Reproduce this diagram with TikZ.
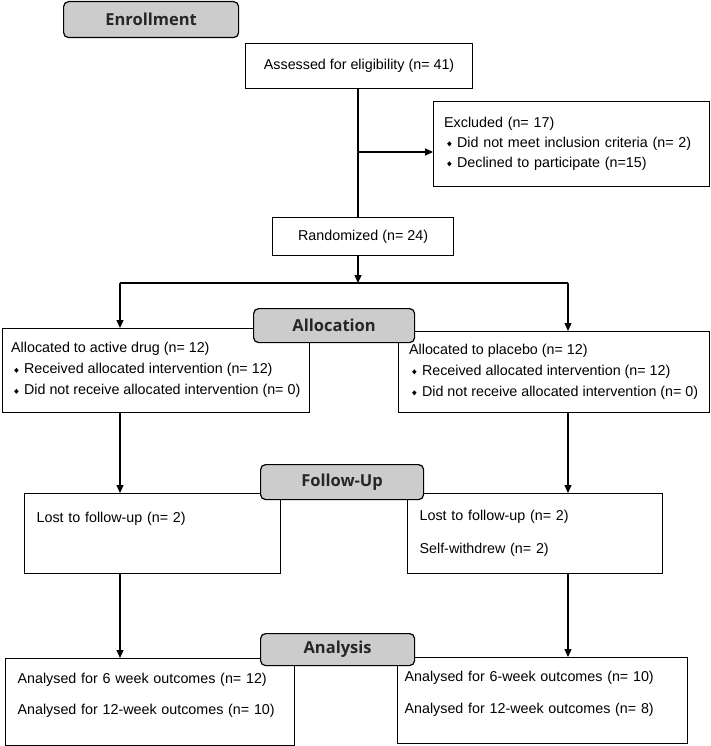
\documentclass[tikz,border=0pt]{standalone}
\usepackage{fontspec}
\setmainfont{Liberation Sans}
\newfontfamily\headfont{Open Sans}
\usepackage{tikz}
\usetikzlibrary{arrows.meta,positioning}

\newcommand{\dmd}{\hspace{3pt}\tikz[baseline=-3.6pt]\fill (0pt,2.5pt) -- (2.2pt,0pt) -- (0pt,-2.5pt) -- (-2.2pt,0pt) -- cycle;\hspace{5.5pt}}

\begin{document}
\begin{tikzpicture}
      [x=1pt, y=-1pt, line width=1.2pt, >={Triangle[length=8pt,width=7pt]},
      box/.style={rectangle, draw, anchor=north west, inner xsep=11pt, inner ysep=0pt,
        font=\fontsize{14.3}{21}\selectfont},
      phase/.style={rectangle, draw, rounded corners=5pt, fill=gray!40, anchor=north west,
        inner sep=0pt, text=black!85, font=\headfont\bfseries\fontsize{16.5}{20}\selectfont}]

      \useasboundingbox (0,0) rectangle (710,746);

      \node [box, align=center, minimum width=227pt, minimum height=45pt] (assess) at (245,43)
        {Assessed for eligibility (n= 41)};
      \node [box, align=left, text width=254pt, minimum width=276pt, minimum height=85pt] (excl) at (433,101)
        {Excluded (n= 17)\\[-1pt]\dmd Did not meet inclusion criteria (n= 2)\\[-1pt]\dmd Declined to participate (n=15)};
      \node [box, align=center, minimum width=181pt, minimum height=38pt] (rand) at (272,217)
        {Randomized (n= 24)};

      \node [box, align=left, minimum width=306pt, minimum height=84pt, inner xsep=9pt] (allocL) at (2,328)
        {Allocated to active drug (n= 12)\\\dmd Received allocated intervention (n= 12)\\\dmd Did not receive allocated intervention (n= 0)};
      \node [box, align=left, minimum width=311pt, minimum height=81pt, inner xsep=9pt] (allocR) at (398,331)
        {Allocated to placebo (n= 12)\\\dmd Received allocated intervention (n= 12)\\\dmd Did not receive allocated intervention (n= 0)};

      \node [box, align=left, text width=232pt, minimum width=256pt, minimum height=80pt, inner xsep=12pt] (fuL) at (24,493)
        {Lost to follow-up (n= 2)\\[12pt]\mbox{}};
      \node [box, align=left, text width=231pt, minimum width=255pt, minimum height=80pt, inner xsep=12pt] (fuR) at (407,493)
        {Lost to follow-up (n= 2)\\[12pt]Self-withdrew (n= 2)};

      \node [box, align=left, text width=265pt, minimum width=289pt, minimum height=87pt, inner xsep=12pt] (anL) at (5,658)
        {Analysed for 6 week outcomes (n= 12)\\[10pt]Analysed for 12-week outcomes (n= 10)\\[-4pt]\mbox{}};
      \node [box, align=left, text width=276pt, minimum width=290pt, minimum height=86pt, inner xsep=7pt] (anR) at (397,657)
        {Analysed for 6-week outcomes (n= 10)\\[11pt]Analysed for 12-week outcomes (n= 8)\\[-4pt]\mbox{}};

      \coordinate (split) at (358,152);
      \coordinate (fork) at (358,283);
      \coordinate (forkL) at (120,283);
      \coordinate (forkR) at (568,283);

      \draw (fork |- assess.south) -- (fork |- rand.north);
      \draw [->] (split) -- (split -| excl.west);
      \draw [->] (fork |- rand.south) -- (fork);
      \draw (forkL) -- (forkR);
      \draw [->] (forkL) -- (forkL |- allocL.north);
      \draw [->] (forkR) -- (forkR |- allocR.north);
      \draw [->] (forkL |- allocL.south) -- (forkL |- fuL.north);
      \draw [->] (forkR |- allocR.south) -- (forkR |- fuR.north);
      \draw [->] (forkL |- fuL.south) -- (forkL |- anL.north);
      \draw [->] (forkR |- fuR.south) -- (forkR |- anR.north);

      \node [phase, minimum width=175pt, minimum height=36pt] (enrol) at (63,1) {Enrollment};
      \node [phase, minimum width=161pt, minimum height=34pt] (alloc) at (253,308) {Allocation};
      \node [phase, minimum width=163pt, minimum height=35pt] (follow) at (260,464) {Follow-Up};
      \node [phase, minimum width=154pt, minimum height=32pt] (analysis) at (260,633) {Analysis};
    \end{tikzpicture}
\end{document}
